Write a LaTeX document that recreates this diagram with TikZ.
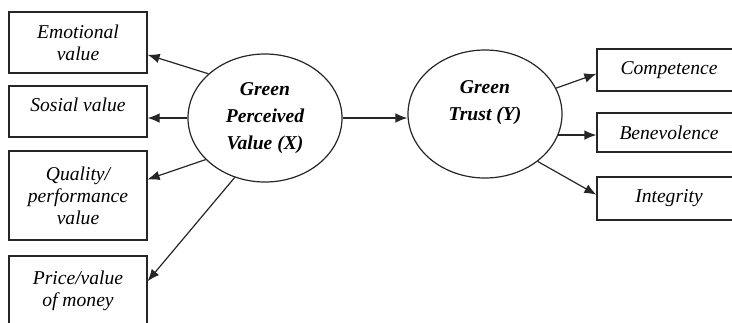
\documentclass[tikz,border=0pt]{standalone}
\usepackage{fontspec}
\setmainfont{Liberation Serif}
\usetikzlibrary{shapes.geometric,arrows.meta}

\begin{document}
\begin{tikzpicture}[
	x=0.5pt, y=-0.5pt,
	indbox/.style={rectangle, draw=black!85, line width=0.6pt, align=center, font=\fontsize{9.8}{11}\selectfont\itshape, minimum width=69pt},
	dimbox/.style={indbox, minimum width=72pt},
	latent/.style={ellipse, draw=black!85, line width=0.6pt, align=center, minimum width=77pt, minimum height=64pt, font=\fontsize{9.8}{13.5}\selectfont\bfseries\itshape},
	arr/.style={-{Latex[length=6pt,width=4.8pt]}, draw=black!85, line width=0.6pt},
	]
	\clip (0,0) rectangle (732,322);
	
	%Nodes
	\node[indbox, minimum height=30.5pt]	(emo)	at (78,42.5)	{Emotional\\value};
	\node[indbox, minimum height=25.5pt]	(sos)	at (78,111.5)	{Sosial value\\[-4pt]\mbox{}};
	\node[indbox, minimum height=44.5pt]	(qual)	at (78,195.5)	{Quality/\\performance\\value};
	\node[indbox, minimum height=35pt]		(price)	at (78,291)		{Price/value\\of money};
	\node[latent]	(gpv)	at (265,118)	{Green\\Perceived\\Value (X)};
	\node[latent]	(gt)	at (485,114)	{Green\\Trust (Y)\\\mbox{}};
	\node[dimbox, minimum height=21pt]		(comp)	at (669,70)		{Competence};
	\node[dimbox, minimum height=19.5pt]	(ben)	at (669,132.5)	{Benevolence};
	\node[dimbox, minimum height=21.5pt]	(integ)	at (669,198.5)	{Integrity};
	
	%Lines
	\draw[arr] (gpv.142) -- (emo.-10);
	\draw[arr] (gpv.west) -- (gpv.west -| sos.east);
	\draw[arr] (gpv.215) -- (qual.13);
	\draw[arr] (gpv.243) -- (price.8);
	\draw[arr] (gpv.east) -- (gpv.east -| gt.west);
	\draw[arr] (gt.20) -- (comp.183);
	\draw[arr] (gt.-16) -- (gt.-16 -| ben.west);
	\draw[arr] (gt.-42) -- (integ.177);
	
\end{tikzpicture}
\end{document}
